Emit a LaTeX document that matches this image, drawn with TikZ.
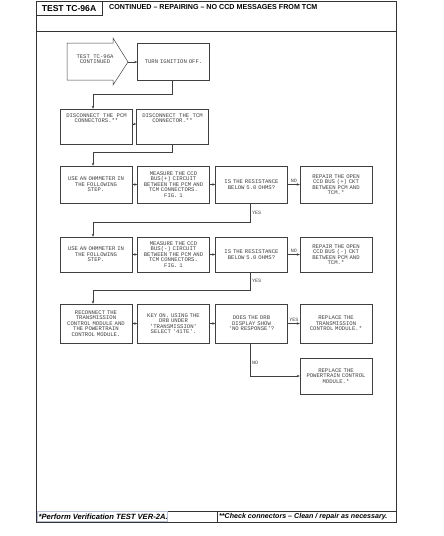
\documentclass[tikz,border=0pt]{standalone}
\usepackage{fontspec}
\usepackage{graphicx}
\newfontfamily\hfont[Ligatures=TeX]{Liberation Sans}
\newfontfamily\tfont{Liberation Mono}
\usetikzlibrary{arrows.meta}
\definecolor{ink}{gray}{0.25}
\definecolor{frameink}{gray}{0.2}
\definecolor{footbox}{rgb}{0.72,0.75,0.85}
\tikzset{
  box/.style={draw=ink, line width=0.45pt, inner xsep=2pt, inner ysep=0pt,
    text width=68pt, align=center, text=ink,
    font=\tfont\fontsize{5.6}{5.5}\selectfont},
  txt/.style={inner sep=0pt, align=center, text=ink,
    font=\tfont\fontsize{5.6}{5.5}\selectfont},
  lbl/.style={inner sep=0pt, text=ink, font=\tfont\fontsize{5}{5}\selectfont},
  arr/.style={draw=ink, line width=0.45pt, -{Stealth[length=3pt,width=2.4pt]}},
  frame/.style={draw=frameink, line width=0.8pt},
}
\begin{document}
\begin{tikzpicture}[x=1pt,y=-1pt]
\useasboundingbox (0,0) rectangle (444,536);
% frame
\draw[frame] (36,1) rectangle (396,522);
\draw[frame] (36,31) -- (396,31);
\draw[frame] (36,1) rectangle (102,15);
\draw[frame] (36,511) -- (396,511);
\draw[frame] (217,511) -- (217,522);
\draw[footbox, line width=0.5pt] (37.5,511.5) rectangle (167,521.5);
\node[inner sep=0pt, text=black, font=\hfont\bfseries\fontsize{8.6}{9}\selectfont] (hdr) at (69,8.5) {TEST TC-96A};
\node[anchor=west, inner sep=0pt, text=black, font=\hfont\bfseries\fontsize{7.2}{8}\selectfont] (title) at (109,7.5) {\scalebox{0.99}[1]{CONTINUED – REPAIRING – NO CCD MESSAGES FROM TCM}};
\node[anchor=west, inner sep=0pt, text=black, font=\hfont\bfseries\itshape\fontsize{7.6}{8}\selectfont] (foot1) at (38.5,516.5) {*Perform Verification TEST VER-2A.};
\node[anchor=west, inner sep=0pt, text=black, font=\hfont\bfseries\itshape\fontsize{7.1}{8}\selectfont] (foot2) at (219,516.5) {**Check connectors – Clean / repair as necessary.};

% start arrow
\draw[draw=ink, line width=0.5pt] (67,43) -- (113,43) -- (113,38) -- (128,62) -- (113,85) -- (113,80) -- (67,80) -- cycle;
\coordinate (tip) at (128,62);
\node[txt] (start) at (95,59) {TEST TC-96A\\CONTINUED};

% row 1
\node[box, minimum height=37pt] (turn) at (173.5,61.5) {TURN IGNITION OFF.};
% row 2
\node[box, minimum height=35pt] (dpcm) at (96.5,126.5) {};
\node[box, minimum height=35pt] (dtcm) at (172.5,126.5) {};
\node[txt, anchor=north] (dpcmt) at ([yshift=-4.5pt]dpcm.north) {DISCONNECT THE PCM\\CONNECTORS.**};
\node[txt, anchor=north] (dtcmt) at ([yshift=-4.5pt]dtcm.north) {DISCONNECT THE TCM\\CONNECTOR.**};
% row 3
\node[box, minimum height=37pt] (a1) at (96,184.5) {USE AN OHMMETER IN\\THE FOLLOWING\\STEP.};
\node[box, minimum height=37pt] (a2) at (173.5,184.5) {MEASURE THE CCD\\BUS(+) CIRCUIT\\BETWEEN THE PCM AND\\TCM CONNECTORS.\\FIG. 1};
\node[box, minimum height=37pt] (a3) at (251.5,184.5) {IS THE RESISTANCE\\BELOW 5.0 OHMS?};
\node[box, minimum height=37pt] (a4) at (336,184.5) {REPAIR THE OPEN\\CCD BUS (+) CKT\\BETWEEN PCM AND\\TCM.*};
% row 4
\node[box, minimum height=35pt] (b1) at (96,254.5) {USE AN OHMMETER IN\\THE FOLLOWING\\STEP.};
\node[box, minimum height=35pt] (b2) at (173.5,254.5) {MEASURE THE CCD\\BUS(-) CIRCUIT\\BETWEEN THE PCM AND\\TCM CONNECTORS.\\FIG. 1};
\node[box, minimum height=35pt] (b3) at (251.5,254.5) {IS THE RESISTANCE\\BELOW 5.0 OHMS?};
\node[box, minimum height=35pt] (b4) at (336,254.5) {REPAIR THE OPEN\\CCD BUS (-) CKT\\BETWEEN PCM AND\\TCM.*};
% row 5
\node[box, minimum height=39pt] (c1) at (96,323.5) {RECONNECT THE\\TRANSMISSION\\CONTROL MODULE AND\\THE POWERTRAIN\\CONTROL MODULE.};
\node[box, minimum height=39pt] (c2) at (173.5,323.5) {KEY ON. USING THE\\DRB UNDER\\'TRANSMISSION'\\SELECT '41TE'.};
\node[box, minimum height=39pt] (c3) at (251.5,323.5) {DOES THE DRB\\DISPLAY SHOW\\'NO RESPONSE'?};
\node[box, minimum height=39pt] (c4) at (336,323.5) {REPLACE THE\\TRANSMISSION\\CONTROL MODULE.*};
% row 6
\node[box, minimum height=36pt] (d4) at (336,376) {REPLACE THE\\POWERTRAIN CONTROL\\MODULE.*};

% connectors
\draw[arr] (tip) -- (turn.west |- tip);
\draw[arr] ([xshift=-1.5pt]turn.south) -- ++(0,14) -| ([xshift=-3.5pt]dpcm.north);
\draw[arr] (dpcm.east |- 0,124) -- (dtcm.west |- 0,124);
\draw[arr] (dtcm.south) -- ++(0,8) -| ([xshift=-3pt]a1.north);
\draw[arr] (a1) -- (a2);
\draw[arr] (a2) -- (a3);
\draw[arr] (a3) -- node[lbl, above=2pt] (no1) {NO} (a4);
\draw[arr] ([xshift=-1.5pt]a3.south) -- node[lbl, right=2pt, pos=0.5] (yes1) {YES} ++(0,19) -| ([xshift=-3pt]b1.north);
\draw[arr] (b1) -- (b2);
\draw[arr] (b2) -- (b3);
\draw[arr] (b3) -- node[lbl, above=2pt] (no2) {NO} (b4);
\draw[arr] ([xshift=-1.5pt]b3.south) -- node[lbl, right=2pt, pos=0.5] (yes2) {YES} ++(0,18) -| ([xshift=-3pt]c1.north);
\draw[arr] (c1) -- (c2);
\draw[arr] (c2) -- (c3);
\draw[arr] (c3) -- node[lbl, above=2pt] (yes3) {YES} (c4);
\draw[arr] ([xshift=-1.5pt]c3.south) |- node[lbl, right=2pt, pos=0.3] (no3) {NO} (d4.west);
\end{tikzpicture}
\end{document}
